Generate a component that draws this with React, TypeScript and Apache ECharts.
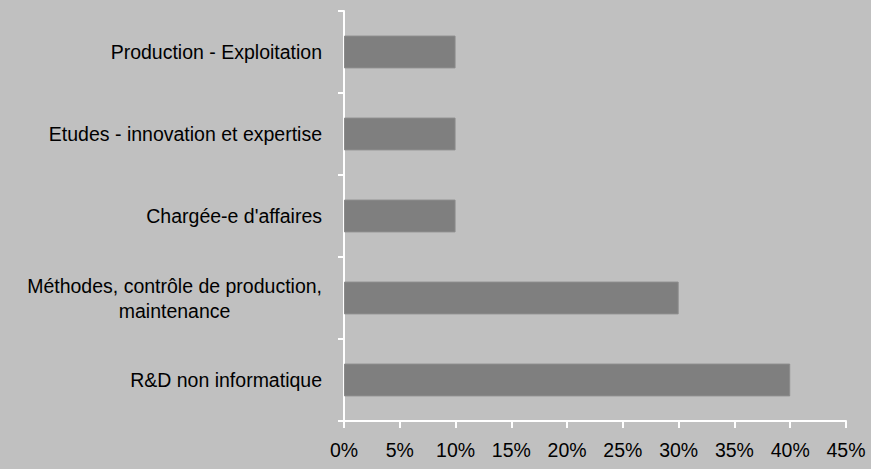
import React, { useEffect, useRef } from "react";
import * as echarts from "echarts";

const categories = [
  "Production - Exploitation",
  "Etudes - innovation et expertise",
  "Chargée-e d'affaires",
  "Méthodes, contrôle de production,\nmaintenance",
  "R&D non informatique",
];
const values = [10, 10, 10, 30, 40];
const xMin = 0;
const xMax = 45;
const xInterval = 5;

export default function App() {
  const ref = useRef<HTMLDivElement>(null);
  useEffect(() => {
    if (!ref.current) return;
    const chart = echarts.init(ref.current, null, { renderer: "svg" });
    chart.setOption({
      animation: false,
      backgroundColor: "#c0c0c0",
      grid: { left: 344, right: 25, top: 11, bottom: 48, containLabel: false },
      xAxis: {
        type: "value",
        min: xMin,
        max: xMax,
        interval: xInterval,
        axisLine: { show: true, lineStyle: { color: "#ffffff", width: 2 } },
        axisTick: { show: true, length: 7, lineStyle: { color: "#ffffff", width: 2 } },
        splitLine: { show: false },
        axisLabel: {
          formatter: "{value}%",
          color: "#000",
          fontFamily: "Liberation Sans, Arial, sans-serif",
          fontSize: 19.5,
          margin: 19,
        },
      },
      yAxis: {
        type: "category",
        inverse: true,
        data: categories,
        axisLine: { show: true, lineStyle: { color: "#ffffff", width: 2 } },
        axisTick: { show: true, length: 6, lineStyle: { color: "#ffffff", width: 2 } },
        axisLabel: {
          margin: 22,
          color: "#000",
          fontFamily: "Liberation Sans, Arial, sans-serif",
          fontSize: 19.5,
          lineHeight: 25,
          formatter: (v: string) =>
            v
              .split("\n")
              .map((s) => `{c|${s}}`)
              .join("\n"),
          rich: {
            c: {
              align: "center",
              color: "#000",
              fontFamily: "Liberation Sans, Arial, sans-serif",
              fontSize: 19.5,
              lineHeight: 25,
            },
          },
        },
      },
      series: [
        {
          type: "bar",
          data: values,
          barWidth: "40%",
          itemStyle: { color: "#7f7f7f", borderColor: "#8c8c8c", borderWidth: 1 },
        },
      ],
    });
    return () => chart.dispose();
  }, []);
  return (
    <div
      ref={ref}
      style={{ position: "absolute", left: 0, top: 0, width: 871, height: 469 }}
    />
  );
}
